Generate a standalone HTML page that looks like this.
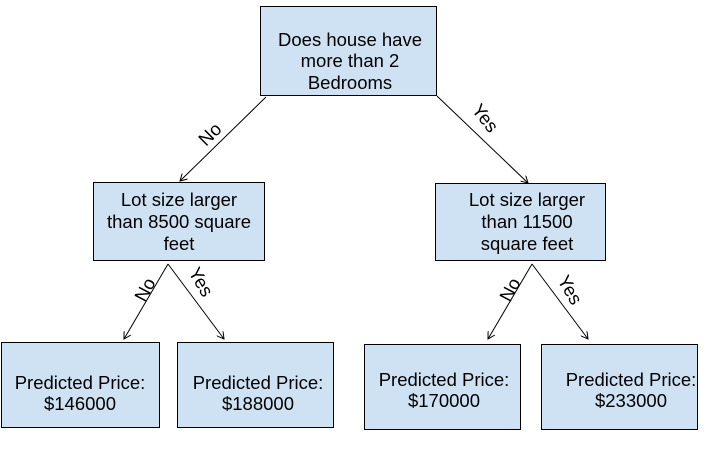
<!DOCTYPE html>
<html><head><style>
body{margin:0;background:#fff;width:709px;height:449px;overflow:hidden}
svg{display:block}
text{font-family:"Liberation Sans",Arial,sans-serif;font-size:18.5px;fill:#000}
rect{fill:#cfe2f3;stroke:#000;stroke-width:1}
line{stroke:#000;stroke-width:1}
</style></head><body>
<svg width="709" height="449" viewBox="0 0 709 449">
<defs><marker id="a" markerWidth="8" markerHeight="8" refX="7" refY="4" orient="auto" markerUnits="userSpaceOnUse"><path d="M0,0 L7,4 L0,8" fill="none" stroke="#000"/></marker></defs>
<rect x="260.5" y="6.5" width="176" height="89"/>
<rect x="93.5" y="182.5" width="171" height="78"/>
<rect x="435.5" y="183.5" width="170" height="77"/>
<rect x="1.5" y="342.5" width="158" height="85"/>
<rect x="177.5" y="342.5" width="156" height="85"/>
<rect x="364.5" y="344.5" width="156" height="85"/>
<rect x="541.5" y="344.5" width="156" height="85"/>
<g text-anchor="middle">
<text x="350" y="46">Does house have</text><text x="350" y="67">more than 2</text><text x="350" y="89">Bedrooms</text>
<text x="179" y="206">Lot size larger</text><text x="179" y="228">than 8500 square</text><text x="179" y="250">feet</text>
<text x="527" y="206">Lot size larger</text><text x="527" y="228">than 11500</text><text x="527" y="250">square feet</text>
<text x="80" y="389">Predicted Price:</text><text x="80" y="410">$146000</text>
<text x="258" y="389">Predicted Price:</text><text x="258" y="410">$188000</text>
<text x="444" y="386">Predicted Price:</text><text x="444" y="407">$170000</text>
<text x="631" y="386">Predicted Price:</text><text x="631" y="407">$233000</text>
</g>
<line x1="266" y1="97" x2="180" y2="181" marker-end="url(#a)"/>
<line x1="437" y1="96" x2="528" y2="183" marker-end="url(#a)"/>
<line x1="168" y1="264" x2="124" y2="339" marker-end="url(#a)"/>
<line x1="168" y1="264" x2="224" y2="339" marker-end="url(#a)"/>
<line x1="532" y1="264" x2="488" y2="339" marker-end="url(#a)"/>
<line x1="532" y1="264" x2="588" y2="339" marker-end="url(#a)"/>
<text transform="translate(206,147) rotate(-45)">No</text>
<text transform="translate(471,110) rotate(52)">Yes</text>
<text transform="translate(145,303) rotate(-62)">No</text>
<text transform="translate(188,272) rotate(60)">Yes</text>
<text transform="translate(510,303) rotate(-62)">No</text>
<text transform="translate(557,280) rotate(60)">Yes</text>
</svg>
</body></html>
